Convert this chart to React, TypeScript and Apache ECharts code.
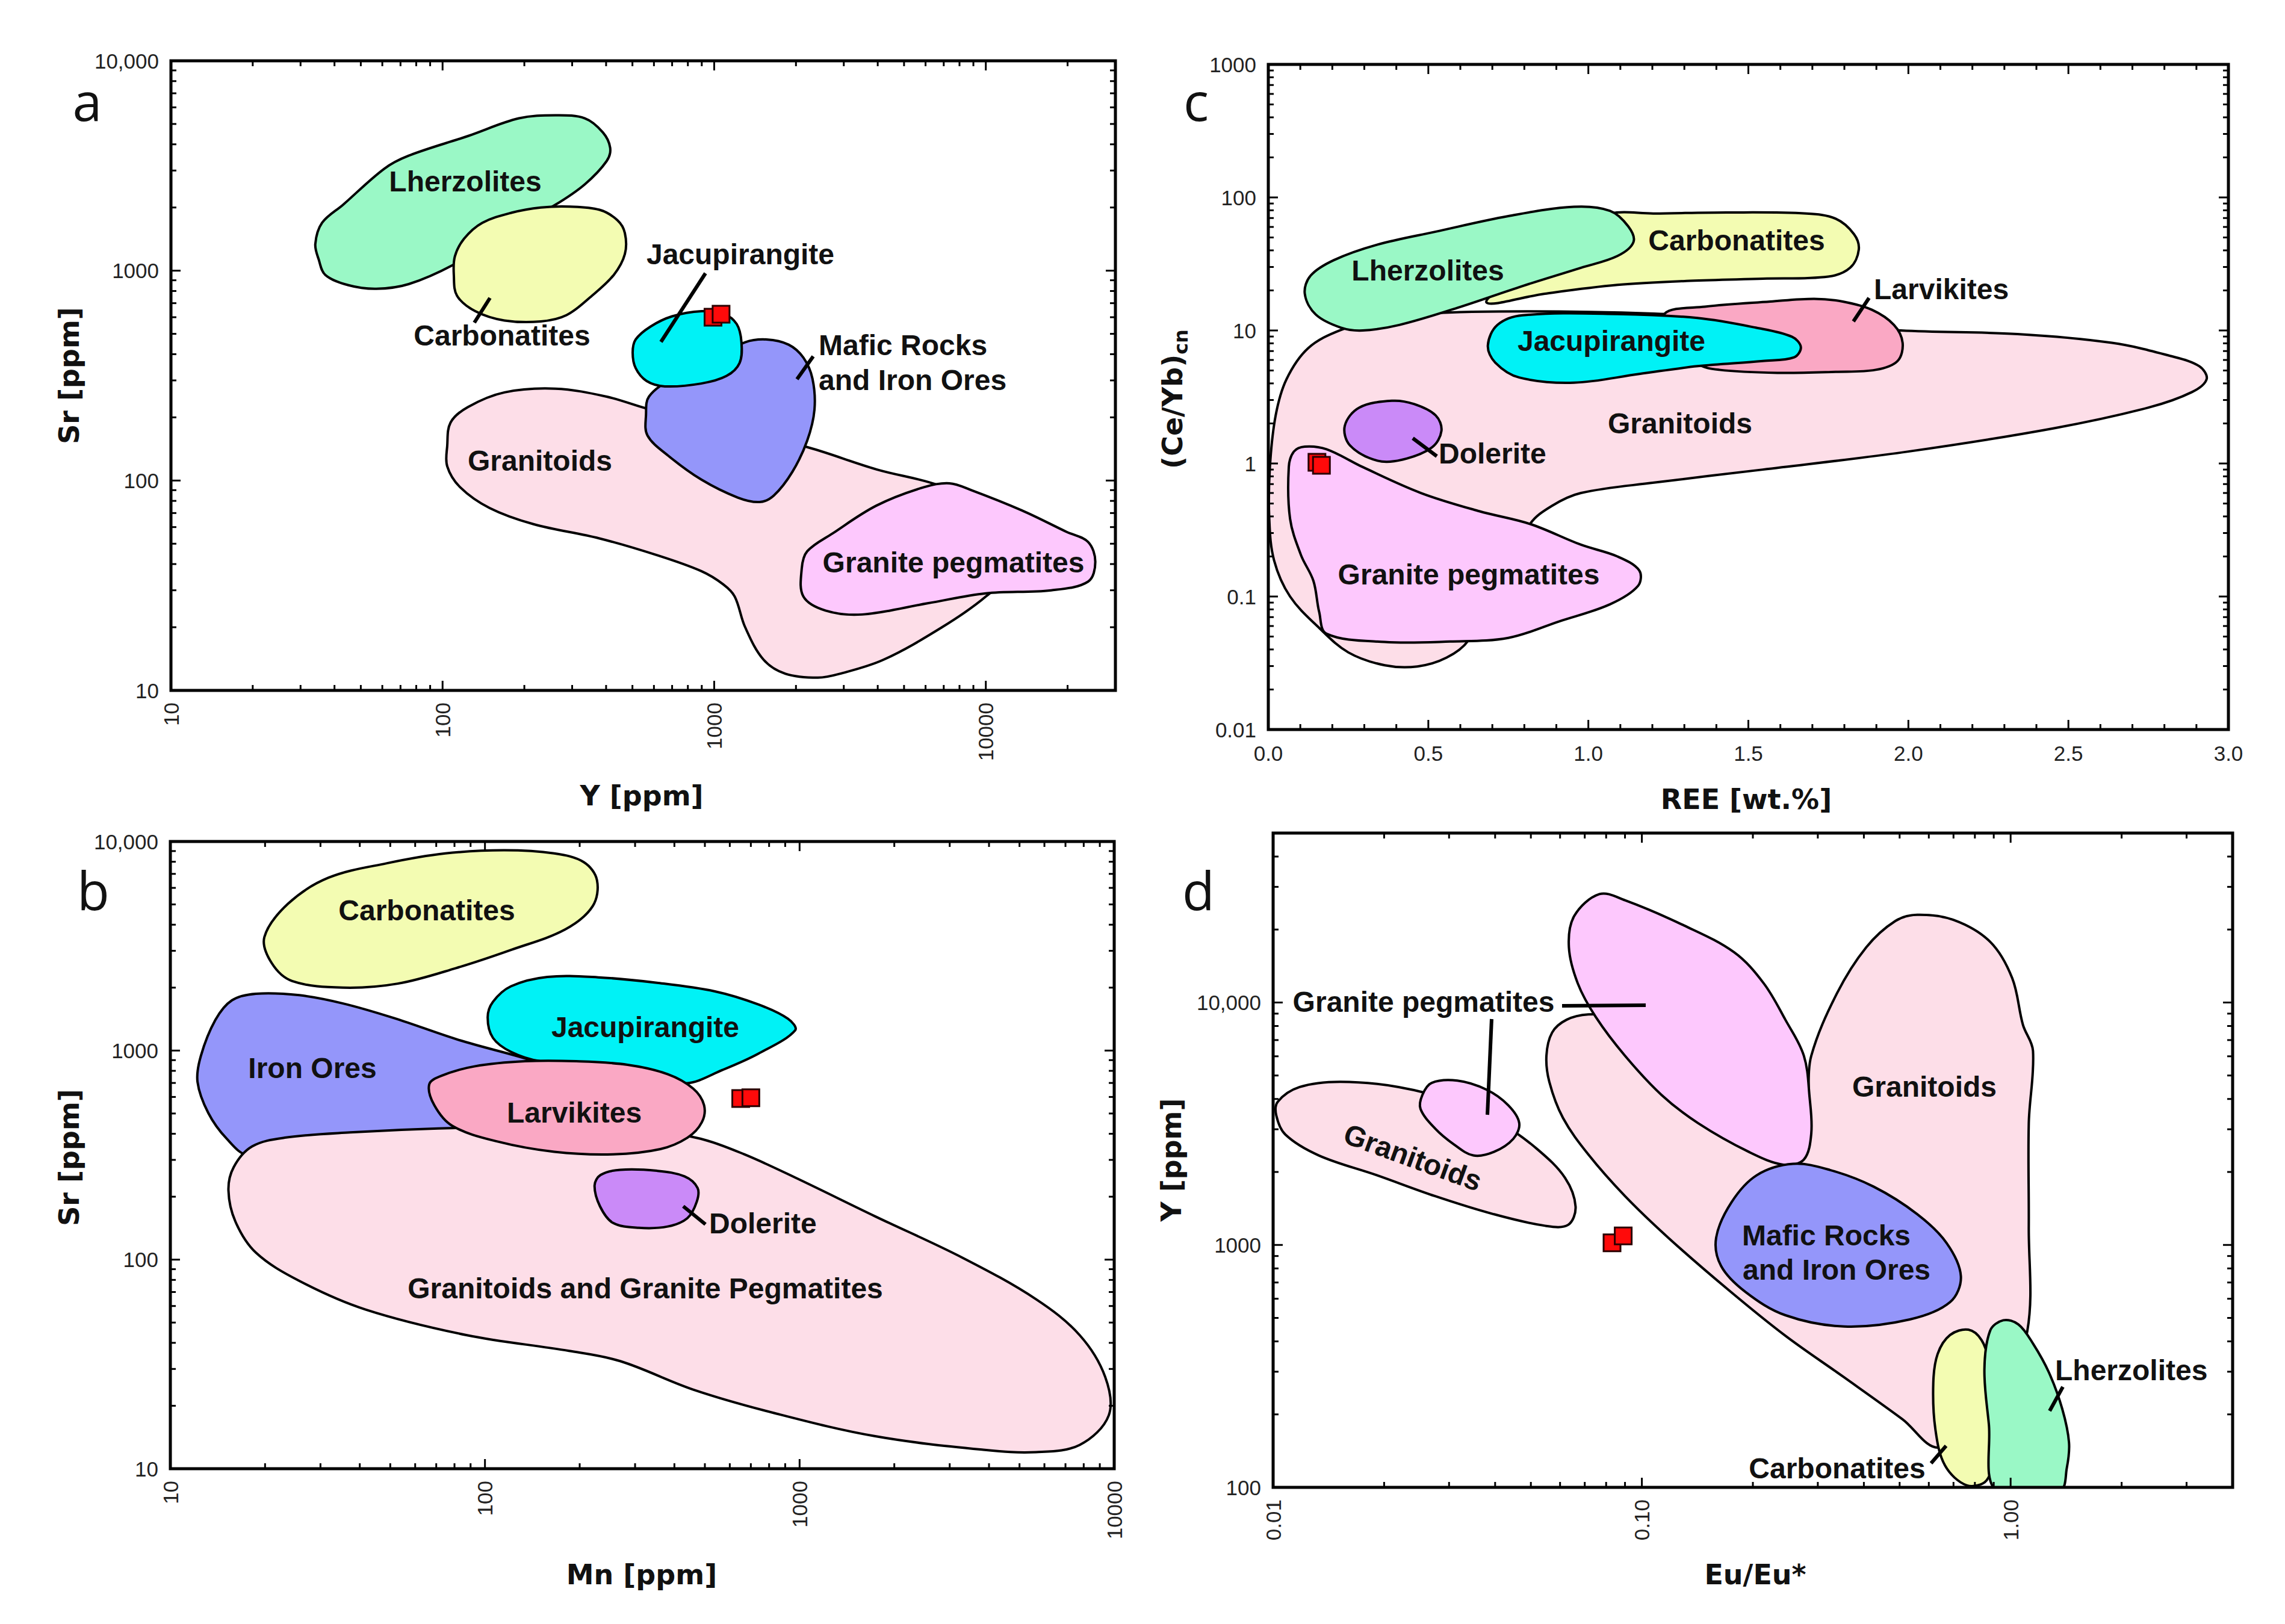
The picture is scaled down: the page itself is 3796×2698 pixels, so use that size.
import React, { useEffect, useRef } from 'react';
import * as echarts from 'echarts';

const W = 3796;
const H = 2698;

// ---------- colours ----------
const COL = {
  lherz: '#9AF8C6',
  carb: '#F3FCB2',
  jacu: '#00F2F6',
  mafic: '#9496FA',
  gran: '#FDDEE8',
  peg: '#FDC8FD',
  larv: '#FAA8C4',
  dol: '#CA8AF8',
};

// ---------- panel a : Sr vs Y ----------
const aGranitoids = [[104,146],[107,189],[124,224],[169,263],[260,274],[402,251],[582,218],[2130,146],[3960,113],[6690,95],[12800,66],[13600,42],[10000,28],[6900,20],[4200,14],[2900,12],[2410,11.5],[1830,12],[1520,14],[1300,20],[1190,28],[1080,32],[897,37],[619,44],[378,53],[216,62],[149,74],[116,93],[104,117]];
const aLherzolites = [[35,1130],[37,955],[45,853],[57,820],[75,863],[110,1070],[169,1510],[260,2060],[334,2580],[402,3330],[414,3850],[389,4560],[334,5320],[260,5500],[191,5320],[124,4380],[75,3530],[61,3060],[43,2060],[36,1690],[34,1340]];
const aCarbonatites = [[110,955],[113,760],[132,641],[169,579],[230,573],[286,614],[355,760],[427,955],[469,1200],[469,1510],[440,1740],[378,1950],[294,2020],[230,2000],[180,1890],[140,1690],[120,1420],[111,1170]];
const aMafic = [[1300,456],[1560,470],[1880,444],[2130,385],[2300,306],[2340,218],[2200,155],[1940,110],[1660,85],[1470,79],[1220,83],[897,101],[679,131],[568,164],[561,206],[575,251],[700,306],[1010,385]];
const aJacupirangite = [[501,407],[514,343],[564,298],[658,281],[897,290],[1110,315],[1240,363],[1260,456],[1210,557],[1080,624],[897,641],[700,606],[582,541],[514,470]];
const aPegmatites = [[2100,38],[2130,28],[2570,24],[3500,23],[6100,26],[10000,29],[17400,30],[23800,33],[25300,41],[23800,51],[19800,57],[13600,72],[8850,90],[7350,97],[5920,93],[3960,76],[2730,56],[2200,46]];
const aSamples = [[990,600],[1060,620]];

// ---------- panel c : (Ce/Yb)cn vs REE ----------
const cGranitoids = [[0.003,0.384],[0.018,0.187],[0.068,0.1],[0.159,0.058],[0.25,0.038],[0.364,0.0304],[0.466,0.0298],[0.557,0.0347],[0.625,0.0467],[0.75,0.157],[0.818,0.351],[0.886,0.48],[0.977,0.6],[1.205,0.718],[1.545,0.9],[2.0,1.23],[2.455,1.84],[2.75,2.63],[2.886,3.44],[2.932,4.31],[2.909,5.39],[2.818,6.44],[2.636,8.07],[2.341,9.4],[1.977,10],[1.659,11.5],[1.205,13.4],[0.636,13.8],[0.364,12.4],[0.227,10.1],[0.125,7.38],[0.057,4.31],[0.023,2.3],[0.005,0.94]];
const cPegmatites = [[0.064,0.94],[0.08,1.23],[0.114,1.34],[0.182,1.28],[0.295,0.94],[0.477,0.6],[0.659,0.438],[0.818,0.351],[0.977,0.245],[1.091,0.2],[1.159,0.157],[1.155,0.12],[1.068,0.0875],[0.909,0.065],[0.75,0.0489],[0.568,0.0459],[0.364,0.0455],[0.182,0.0525],[0.159,0.0764],[0.141,0.131],[0.102,0.205],[0.068,0.384]];
const cCarbonatites = [[0.682,16.2],[0.864,18.9],[1.091,22.0],[1.318,23.6],[1.545,24.5],[1.75,25.4],[1.818,29.6],[1.845,40.5],[1.83,53.0],[1.773,69.2],[1.682,75.7],[1.432,77.1],[1.205,75.7],[1.068,75.7],[0.977,58],[0.795,28.2]];
const cLherzolites = [[0.114,18.9],[0.148,13.2],[0.227,10.5],[0.295,10],[0.409,11.0],[0.591,14.8],[0.795,21.6],[0.977,29.6],[1.091,36.3],[1.141,46.2],[1.125,60.5],[1.068,79.3],[0.955,85.1],[0.75,72.4],[0.523,55.3],[0.341,44.2],[0.205,33.8],[0.132,25.8]];
const cLarvikites = [[1.239,13.4],[1.364,15.1],[1.568,16.5],[1.705,17.3],[1.795,16.5],[1.886,14.3],[1.955,11.0],[1.982,8.07],[1.966,5.89],[1.898,5.06],[1.773,4.89],[1.591,4.8],[1.409,5.06],[1.341,5.64],[1.273,8.83]];
const cJacupirangite = [[0.686,7.71],[0.709,5.74],[0.784,4.43],[0.955,4.05],[1.159,4.71],[1.341,5.39],[1.545,5.89],[1.643,6.28],[1.664,7.5],[1.636,8.97],[1.523,10.5],[1.341,12.4],[1.091,13.3],[0.795,13.0],[0.716,11.0]];
const cDolerite = [[0.239,1.92],[0.255,1.37],[0.341,1.05],[0.42,1.07],[0.511,1.32],[0.541,1.76],[0.523,2.3],[0.455,2.8],[0.386,2.96],[0.284,2.63]];
const cSamples = [[0.152,1.02],[0.166,0.97]];

// ---------- panel b : Sr vs Mn ----------
const bIronOres = [[12.5,942],[12.2,708],[13.2,503],[15.1,379],[17.7,316],[27.1,350],[51.4,390],[92.5,415],[158,563],[170,800],[140,900],[83.2,1120],[51.4,1430],[35.4,1680],[25.7,1840],[18.7,1870],[15.7,1740],[13.9,1400]];
const bGranitoids = [[15.3,214],[16.1,152],[18.7,108],[25.7,79.1],[41.6,57.8],[87.7,43.5],[185,36.6],[269,32.7],[459,23.9],[826,18.5],[1740,14.3],[3880,12.3],[5640,12.0],[7770,13.0],[9610,18.0],[9360,27.5],[7770,43.5],[5640,64.7],[3300,102],[1740,161],[968,247],[667,319],[484,379],[316,420],[150,432],[71.0,424],[37.3,406],[23.1,383],[18.2,348],[15.9,277]];
const bJacupirangite = [[102,1440],[106,1150],[121,986],[150,889],[242,840],[352,771],[435,697],[568,807],[741,968],[968,1250],[918,1420],[741,1660],[538,1920],[352,2110],[229,2240],[158,2250],[121,2030],[106,1710]];
const bLarvikites = [[66.5,689],[69.0,548],[78.8,436],[109,368],[166,328],[255,319],[361,338],[440,383],[489,454],[497,548],[459,658],[381,771],[284,855],[195,889],[134,889],[92.5,840],[72.8,758]];
const bDolerite = [[223,226],[232,180],[255,150],[308,142],[381,144],[440,158],[471,189],[474,220],[431,250],[352,266],[269,269],[233,254]];
const bCarbonatites = [[19.9,3490],[21.0,2620],[24.4,2150],[35.4,2000],[52.8,2090],[80.9,2480],[121,3030],[180,3800],[220,4910],[227,6530],[206,7970],[166,8770],[115,9080],[74.8,8770],[48.8,7870],[31.8,6710],[23.7,5050]];
const bSamples = [[650,590],[700,595]];

// ---------- panel d : Y vs Eu/Eu* ----------
const dGranitoidsBig = [[0.0551,6030],[0.0561,4710],[0.0611,3340],[0.0716,2360],[0.09,1590],[0.118,1070],[0.171,656],[0.245,422],[0.354,284],[0.509,191],[0.64,146],[0.92,211],[1.11,442],[1.12,1190],[1.12,3170],[1.15,6320],[1.08,8090],[1.01,12600],[0.88,17800],[0.701,21900],[0.558,23000],[0.487,21700],[0.406,16900],[0.338,10900],[0.288,6030],[0.269,3170],[0.171,4070],[0.108,6640],[0.0822,8710],[0.0716,8930],[0.0625,8490],[0.0571,7520]];
const dPegmatitesBig = [[0.0634,16900],[0.0655,22700],[0.0767,28000],[0.09,26400],[0.13,20800],[0.178,16100],[0.214,12000],[0.245,8490],[0.275,6030],[0.285,4060],[0.288,2880],[0.275,2250],[0.243,2140],[0.195,2420],[0.142,3180],[0.113,4160],[0.09,6030],[0.075,8710],[0.067,12000]];
const dMafic = [[0.159,1070],[0.164,819],[0.191,640],[0.245,513],[0.354,461],[0.533,493],[0.685,581],[0.733,743],[0.67,1020],[0.558,1340],[0.425,1740],[0.323,2040],[0.257,2160],[0.205,1940],[0.175,1500]];
const dGranitoidsSmall = [[0.0102,3420],[0.0108,2850],[0.0133,2340],[0.0191,1940],[0.0275,1590],[0.0396,1340],[0.0546,1200],[0.0631,1210],[0.0661,1440],[0.0619,1890],[0.0521,2480],[0.0415,3180],[0.0316,3870],[0.0219,4480],[0.0152,4710],[0.0118,4480],[0.0103,3900]];
const dPegmatitesSmall = [[0.0251,3640],[0.0275,3020],[0.0309,2600],[0.0349,2340],[0.0397,2420],[0.0448,2740],[0.0465,3180],[0.0434,3770],[0.0379,4370],[0.0316,4760],[0.0269,4660],[0.0254,4160]];
const dCarbonatites = [[0.617,270],[0.625,174],[0.664,123],[0.76,102],[0.861,107],[0.908,143],[0.9,211],[0.873,330],[0.834,405],[0.768,447],[0.685,425],[0.634,355]];
const dLherzolites = [[0.849,306],[0.873,182],[0.912,97],[1.36,97],[1.42,120],[1.44,153],[1.38,211],[1.27,298],[1.15,392],[1.05,470],[0.955,489],[0.88,443]];
const dSamples = [[0.083,1020],[0.089,1090]];

// ---------- axes ----------
const aXTickVals = [10, 100, 1000, 10000];
const aXTickLabels = ['10', '100', '1000', '10000'];
const aYTickVals = [10, 100, 1000, 10000];
const aYTickLabels = ['10', '100', '1000', '10,000'];
const bXTickVals = [10, 100, 1000, 10000];
const bXTickLabels = ['10', '100', '1000', '10000'];
const bYTickVals = [10, 100, 1000, 10000];
const bYTickLabels = ['10', '100', '1000', '10,000'];
const cYTickVals = [0.01, 0.1, 1, 10, 100, 1000];
const cYTickLabels = ['0.01', '0.1', '1', '10', '100', '1000'];
const dXTickVals = [0.01, 0.1, 1];
const dXTickLabels = ['0.01', '0.10', '1.00'];
const dYTickVals = [100, 1000, 10000];
const dYTickLabels = ['100', '1000', '10,000'];

// grid rectangles (pixels)
const GA = { left: 284, top: 101, width: 1569, height: 1046 };
const GC = { left: 2107, top: 107, width: 1595, height: 1105 };
const GB = { left: 283, top: 1398, width: 1568, height: 1042 };
const GD = { left: 2115, top: 1384, width: 1594, height: 1087 };

const TICK_FONT = "'Liberation Sans', Arial, sans-serif";
const LABEL_FONT = "'Liberation Sans', Arial, sans-serif";
const TITLE_FONT = "'DejaVu Sans', Verdana, sans-serif";

function fmt(vals: number[], labels: string[]) {
  return (v: number) => {
    const i = vals.findIndex((t) => Math.abs(t - v) / t < 1e-6);
    return i >= 0 ? labels[i] : '';
  };
}

function logTicks(min: number, max: number) {
  const out: number[][] = [];
  const e0 = Math.floor(Math.log10(min));
  const e1 = Math.ceil(Math.log10(max));
  for (let e = e0; e <= e1; e++) {
    for (let m = 1; m <= 9; m++) {
      const v = parseFloat((m * Math.pow(10, e)).toPrecision(6));
      if (v > min * 1.0001 && v < max * 0.9999) out.push([v, m === 1 ? 1 : 0]);
    }
  }
  return out;
}

function linTicks(min: number, max: number, step: number, majorEvery: number) {
  const out: number[][] = [];
  const n = Math.round((max - min) / step);
  for (let i = 1; i < n; i++) {
    out.push([parseFloat((min + i * step).toFixed(6)), i % majorEvery === 0 ? 1 : 0]);
  }
  return out;
}

const MAJ = 16;
const MIN = 9;

function xTickSeries(idx: number, ticks: number[][], yRef: number) {
  return {
    type: 'custom', xAxisIndex: idx, yAxisIndex: idx, silent: true, z: 30,
    data: ticks.map((t) => [t[0], yRef, t[1]]),
    renderItem: (params: any, api: any) => {
      const cs = params.coordSys;
      const px = api.coord([api.value(0), api.value(1)])[0];
      const len = api.value(2) ? MAJ : MIN;
      const st = { stroke: '#000', lineWidth: 3 };
      return {
        type: 'group',
        children: [
          { type: 'line', shape: { x1: px, y1: cs.y + cs.height, x2: px, y2: cs.y + cs.height - len }, style: st },
          { type: 'line', shape: { x1: px, y1: cs.y, x2: px, y2: cs.y + len }, style: st },
        ],
      };
    },
  };
}

function yTickSeries(idx: number, ticks: number[][], xRef: number) {
  return {
    type: 'custom', xAxisIndex: idx, yAxisIndex: idx, silent: true, z: 30,
    data: ticks.map((t) => [xRef, t[0], t[1]]),
    renderItem: (params: any, api: any) => {
      const cs = params.coordSys;
      const py = api.coord([api.value(0), api.value(1)])[1];
      const len = api.value(2) ? MAJ : MIN;
      const st = { stroke: '#000', lineWidth: 3 };
      return {
        type: 'group',
        children: [
          { type: 'line', shape: { x1: cs.x, y1: py, x2: cs.x + len, y2: py }, style: st },
          { type: 'line', shape: { x1: cs.x + cs.width, y1: py, x2: cs.x + cs.width - len, y2: py }, style: st },
        ],
      };
    },
  };
}

let zc = 2;
function region(idx: number, pts: number[][], fill: string) {
  const z = zc++;
  return {
    type: 'custom', xAxisIndex: idx, yAxisIndex: idx, silent: true, clip: true, z,
    data: [pts[0]],
    renderItem: (_params: any, api: any) => {
      const points = pts.map((p) => api.coord(p));
      return {
        type: 'polygon',
        shape: { points, smooth: 0.35 },
        style: { fill, stroke: '#000', lineWidth: 4 },
      };
    },
  };
}

function samples(idx: number, pts: number[][]) {
  return {
    type: 'scatter', xAxisIndex: idx, yAxisIndex: idx, silent: true, z: 40,
    symbol: 'rect', symbolSize: 28,
    itemStyle: { color: '#FF0A0A', borderColor: '#2a0000', borderWidth: 3, opacity: 1 },
    data: pts,
  };
}

function baseAxis(extra: any) {
  return {
    axisLine: { show: false },
    axisTick: { show: false },
    splitLine: { show: false },
    ...extra,
    axisLabel: {
      color: '#222', fontFamily: TICK_FONT, fontSize: 35, interval: 0, margin: 20,
      showMinLabel: true, showMaxLabel: true,
      ...(extra.axisLabel || {}),
    },
  };
}

type Lbl = [string, number, number, string?, number?];

const regionLabels: Lbl[] = [
  // panel a
  ['Lherzolites', 773, 301], ['Carbonatites', 834, 557], ['Jacupirangite', 1230, 422],
  ['Mafic Rocks', 1360, 573, 'left'], ['and Iron Ores', 1360, 631, 'left'],
  ['Granitoids', 897, 765], ['Granite pegmatites', 1584, 934],
  // panel c
  ['Lherzolites', 2372, 449], ['Carbonatites', 2885, 399], ['Larvikites', 3113, 480, 'left'],
  ['Jacupirangite', 2677, 566], ['Granitoids', 2791, 703], ['Dolerite', 2390, 753, 'left'],
  ['Granite pegmatites', 2440, 954],
  // panel b
  ['Carbonatites', 709, 1512], ['Iron Ores', 519, 1774], ['Jacupirangite', 1072, 1706],
  ['Larvikites', 954, 1848], ['Dolerite', 1178, 2032, 'left'],
  ['Granitoids and Granite Pegmatites', 1072, 2140],
  // panel d
  ['Granite pegmatites', 2365, 1664], ['Granitoids', 2347, 1923, 'center', -0.35],
  ['Granitoids', 3197, 1805], ['Mafic Rocks', 3034, 2052], ['and Iron Ores', 3051, 2109],
  ['Lherzolites', 3414, 2276, 'left'], ['Carbonatites', 3052, 2439],
];

const leaders: number[][] = [
  [788, 536, 814, 495], [1172, 454, 1098, 568], [1351, 592, 1324, 630],
  [3079, 534, 3105, 495], [2347, 728, 2387, 758],
  [1135, 2004, 1172, 2034],
  [2595, 1671, 2734, 1670], [2478, 1693, 2471, 1852], [3405, 2344, 3427, 2304], [3208, 2431, 3233, 2402],
];

const axisTitles: Lbl[] = [
  ['Sr [ppm]', 115, 624, 'center', Math.PI / 2],
  ['Y [ppm]', 1066, 1322],
  ['REE [wt.%]', 2901, 1328],
  ['Sr [ppm]', 115, 1923, 'center', Math.PI / 2],
  ['Mn [ppm]', 1066, 2616],
  ['Y [ppm]', 1946, 1927, 'center', Math.PI / 2],
  ['Eu/Eu*', 2916, 2616],
];

const panelLetters: Lbl[] = [['a', 145, 167], ['c', 1987, 167], ['b', 155, 1478], ['d', 1991, 1478]];

function textEl(l: Lbl, font: any) {
  const [text, x, y, align = 'center', rot = 0] = l;
  return {
    type: 'text', x, y, rotation: rot, z: 100, silent: true,
    style: {
      text, fill: '#111', align, verticalAlign: 'middle', textAlign: align, textVerticalAlign: 'middle',
      ...font,
    },
  };
}

function buildOption() {
  zc = 2;
  const series: any[] = [
    // panel a (index 0)
    region(0, aGranitoids, COL.gran),
    region(0, aLherzolites, COL.lherz),
    region(0, aCarbonatites, COL.carb),
    region(0, aMafic, COL.mafic),
    region(0, aJacupirangite, COL.jacu),
    region(0, aPegmatites, COL.peg),
    samples(0, aSamples),
    xTickSeries(0, logTicks(10, 30000), 10),
    yTickSeries(0, logTicks(10, 10000), 10),
    // panel c (index 1)
    region(1, cGranitoids, COL.gran),
    region(1, cPegmatites, COL.peg),
    region(1, cCarbonatites, COL.carb),
    region(1, cLherzolites, COL.lherz),
    region(1, cLarvikites, COL.larv),
    region(1, cJacupirangite, COL.jacu),
    region(1, cDolerite, COL.dol),
    samples(1, cSamples),
    xTickSeries(1, linTicks(0, 3, 0.1, 5), 0.01),
    yTickSeries(1, logTicks(0.01, 1000), 0),
    // panel b (index 2)
    region(2, bIronOres, COL.mafic),
    region(2, bGranitoids, COL.gran),
    region(2, bJacupirangite, COL.jacu),
    region(2, bLarvikites, COL.larv),
    region(2, bDolerite, COL.dol),
    region(2, bCarbonatites, COL.carb),
    samples(2, bSamples),
    xTickSeries(2, logTicks(10, 10000), 10),
    yTickSeries(2, logTicks(10, 10000), 10),
    // panel d (index 3)
    region(3, dGranitoidsBig, COL.gran),
    region(3, dPegmatitesBig, COL.peg),
    region(3, dMafic, COL.mafic),
    region(3, dGranitoidsSmall, COL.gran),
    region(3, dPegmatitesSmall, COL.peg),
    region(3, dCarbonatites, COL.carb),
    region(3, dLherzolites, COL.lherz),
    samples(3, dSamples),
    xTickSeries(3, logTicks(0.01, 4), 100),
    yTickSeries(3, logTicks(100, 50000), 0.01),
  ];

  const grids = [GA, GC, GB, GD].map((g) => ({ ...g, containLabel: false, show: false }));

  const xAxis = [
    baseAxis({ type: 'log', gridIndex: 0, min: 10, max: 30000, logBase: 10,
      axisLabel: { rotate: 90, formatter: fmt(aXTickVals, aXTickLabels) } }),
    baseAxis({ type: 'value', gridIndex: 1, min: 0, max: 3, interval: 0.5,
      axisLabel: { formatter: (v: number) => v.toFixed(1), margin: 22 } }),
    baseAxis({ type: 'log', gridIndex: 2, min: 10, max: 10000, logBase: 10,
      axisLabel: { rotate: 90, formatter: fmt(bXTickVals, bXTickLabels) } }),
    baseAxis({ type: 'log', gridIndex: 3, min: 0.01, max: 4, logBase: 10,
      axisLabel: { rotate: 90, formatter: fmt(dXTickVals, dXTickLabels) } }),
  ];
  const yAxis = [
    baseAxis({ type: 'log', gridIndex: 0, min: 10, max: 10000, logBase: 10,
      axisLabel: { formatter: fmt(aYTickVals, aYTickLabels) } }),
    baseAxis({ type: 'log', gridIndex: 1, min: 0.01, max: 1000, logBase: 10,
      axisLabel: { formatter: fmt(cYTickVals, cYTickLabels) } }),
    baseAxis({ type: 'log', gridIndex: 2, min: 10, max: 10000, logBase: 10,
      axisLabel: { formatter: fmt(bYTickVals, bYTickLabels) } }),
    baseAxis({ type: 'log', gridIndex: 3, min: 100, max: 50000, logBase: 10,
      axisLabel: { formatter: fmt(dYTickVals, dYTickLabels) } }),
  ];

  const graphic: any[] = [];
  [GA, GC, GB, GD].forEach((g) => {
    graphic.push({
      type: 'rect', z: 90, silent: true,
      shape: { x: g.left, y: g.top, width: g.width, height: g.height },
      style: { fill: 'none', stroke: '#000', lineWidth: 5 },
    });
  });
  leaders.forEach((l) => {
    graphic.push({
      type: 'line', z: 95, silent: true,
      shape: { x1: l[0], y1: l[1], x2: l[2], y2: l[3] },
      style: { stroke: '#000', lineWidth: 6 },
    });
  });
  regionLabels.forEach((l) => graphic.push(textEl(l, { fontSize: 48, fontWeight: 'bold', fontFamily: LABEL_FONT })));
  axisTitles.forEach((l) => graphic.push(textEl(l, { fontSize: 46, fontWeight: 'bold', fontFamily: TITLE_FONT })));
  panelLetters.forEach((l) => graphic.push(textEl(l, { fontSize: 88, fontWeight: 'normal', fontFamily: "'Open Sans', 'DejaVu Sans', sans-serif" })));
  // (Ce/Yb)cn with subscript
  graphic.push({
    type: 'text', x: 1948, y: 663, rotation: Math.PI / 2, z: 100, silent: true,
    style: {
      text: '{m|(Ce/Yb)}{s|cn}',
      align: 'center', verticalAlign: 'middle', textAlign: 'center', textVerticalAlign: 'middle',
      fill: '#111',
      rich: {
        m: { fontSize: 46, fontWeight: 'bold', fontFamily: TITLE_FONT, lineHeight: 60, fill: '#111', color: '#111' },
        s: { fontSize: 32, fontWeight: 'bold', fontFamily: TITLE_FONT, lineHeight: 28, verticalAlign: 'bottom', fill: '#111', color: '#111' },
      },
    },
  });

  return {
    animation: false,
    backgroundColor: '#ffffff',
    grid: grids,
    xAxis,
    yAxis,
    series,
    graphic: { elements: graphic },
  };
}

export default function App() {
  const ref = useRef<HTMLDivElement>(null);
  useEffect(() => {
    if (!ref.current) return;
    const chart = echarts.init(ref.current, null, { renderer: 'svg', width: W, height: H });
    chart.setOption(buildOption() as any);
    return () => chart.dispose();
  }, []);
  return (
    <div
      ref={ref}
      style={{ position: 'absolute', left: 0, top: 0, width: W, height: H, background: '#fff' }}
    />
  );
}
